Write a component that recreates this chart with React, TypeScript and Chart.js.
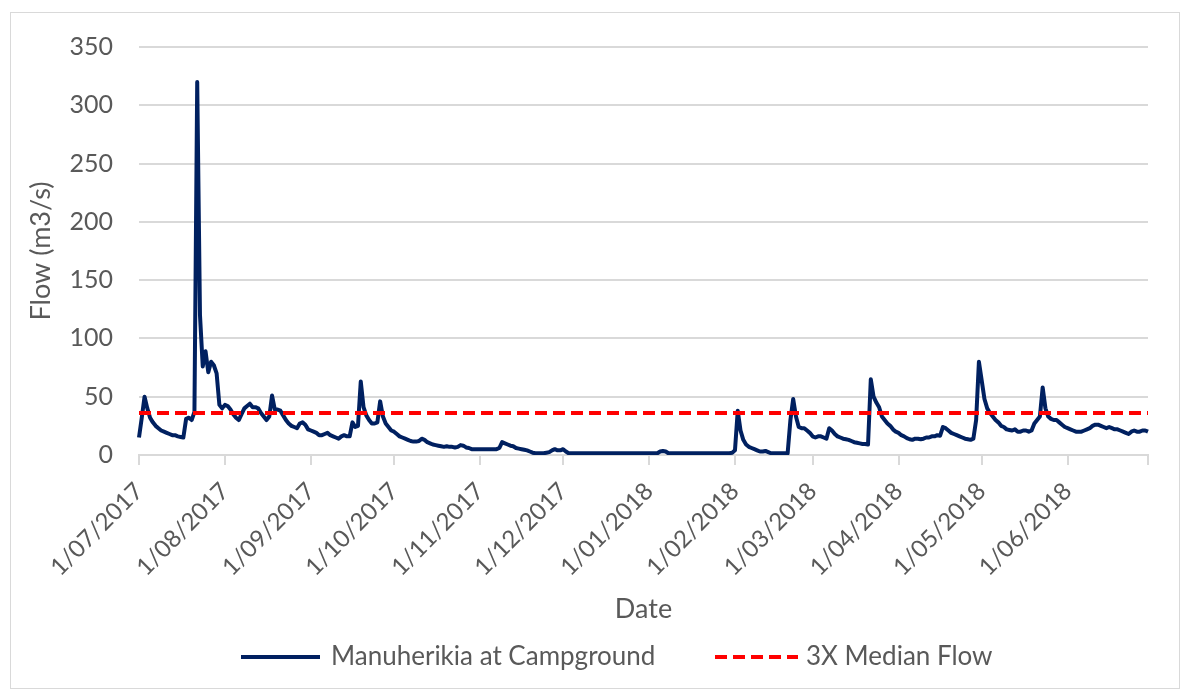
import React, { useEffect, useRef } from 'react';
import { Chart, registerables } from 'chart.js';

Chart.register(...registerables);

// ---- Data ----
const monthStarts = [
  '1/07/2017', '1/08/2017', '1/09/2017', '1/10/2017', '1/11/2017', '1/12/2017',
  '1/01/2018', '1/02/2018', '1/03/2018', '1/04/2018', '1/05/2018', '1/06/2018',
];
const monthLengths = [31, 31, 30, 31, 30, 31, 31, 28, 31, 30, 31, 30];

const julFlow = [15, 32, 50, 40, 32, 28, 25, 23, 21, 20, 19, 18, 17, 17, 16, 15.5, 15, 31, 32, 30, 37, 320, 120, 76, 89, 71, 80, 77, 70, 43, 40];
const augFlow = [43, 42, 39, 35, 32, 30, 35, 40, 42, 44, 41, 41, 40, 36, 33, 30, 33, 51, 39, 39, 38, 34, 30, 27, 25, 24, 23, 27, 28, 26, 22];
const sepFlow = [21, 20, 19, 17, 17, 18, 19, 17, 16, 15, 14, 16, 17, 16, 16, 28, 24, 25, 63, 41, 34, 30, 27, 27, 28, 46, 33, 27, 24, 21];
const octFlow = [20, 18, 16, 15, 14, 13, 12, 11.5, 11.5, 12, 14, 13, 11, 10, 9, 8.5, 8, 7.5, 7, 7.5, 7, 7, 6.5, 7, 8.5, 8, 6.5, 6, 5, 5, 5];
const novFlow = [5, 5, 5, 5, 5, 5, 5, 6, 11, 10, 9, 8, 7.5, 6, 5.5, 5, 4.5, 4, 3, 2, 1.5, 1.5, 1.5, 1.5, 2, 2.5, 4, 5, 4, 4];
const decFlow = [5, 3, 1.5, 1.5, 1.5, 1.5, 1.5, 1.5, 1.5, 1.5, 1.5, 1.5, 1.5, 1.5, 1.5, 1.5, 1.5, 1.5, 1.5, 1.5, 1.5, 1.5, 1.5, 1.5, 1.5, 1.5, 1.5, 1.5, 1.5, 1.5, 1.5];
const janFlow = [1.5, 1.5, 1.5, 1.5, 3, 3.5, 3, 1.5, 1.5, 1.5, 1.5, 1.5, 1.5, 1.5, 1.5, 1.5, 1.5, 1.5, 1.5, 1.5, 1.5, 1.5, 1.5, 1.5, 1.5, 1.5, 1.5, 1.5, 1.5, 1.5, 2];
const febFlow = [4, 38, 21, 13, 9, 7, 6, 5, 4, 3, 3, 3.5, 2.5, 1.5, 1.5, 1.5, 1.5, 1.5, 1.5, 1.5, 30, 48, 33, 24, 23, 23, 21, 19];
const marFlow = [16, 15, 16, 16, 15, 14, 23, 21, 18, 16, 15, 14, 13.5, 13, 12, 11, 10.5, 10, 9.5, 9.5, 9, 65, 50, 45, 41, 33, 30, 27, 25, 22, 20];
const aprFlow = [19, 17, 16, 14.5, 13.5, 13, 14, 14, 13.5, 14, 15, 15, 16, 16, 17, 16.5, 24, 23, 21, 19, 18, 17, 16, 15, 14, 13.5, 13, 14, 30, 80];
const mayFlow = [64, 48, 40, 36, 33, 30, 28, 25, 24, 22, 21.5, 21, 22, 20, 20, 21, 21, 20, 21, 27, 30, 33, 58, 40, 33, 31, 30, 30, 28, 26, 24];
const junFlow = [23, 22, 21, 20, 20, 20, 21, 22, 23, 25, 26, 26, 25, 24, 23, 24, 23, 22, 22, 21, 20, 19, 18, 20, 21, 20, 20, 21, 21, 20];

const MEDIAN_3X = 36;

const flow = [
  ...julFlow, ...augFlow, ...sepFlow, ...octFlow, ...novFlow, ...decFlow,
  ...janFlow, ...febFlow, ...marFlow, ...aprFlow, ...mayFlow, ...junFlow,
];

// day labels (d/mm/yyyy) built from month starts
const dayLabels: string[] = [];
monthStarts.forEach((ms, mi) => {
  const rest = ms.slice(ms.indexOf('/'));
  for (let d = 1; d <= monthLengths[mi]; d++) dayLabels.push(`${d}${rest}`);
});
const lastIndex = dayLabels.length - 1;

const NAVY = '#002060';
const RED = '#FF0000';
const GRID = '#D9D9D9';
const TEXT = '#595959';
const FONT = 'Lato';

const legendPlugin = {
  id: 'customLegend',
  afterDraw(chart: any) {
    const ctx = chart.ctx as CanvasRenderingContext2D;
    const y = 657;
    ctx.save();
    ctx.font = `26px ${FONT}`;
    ctx.fillStyle = TEXT;
    ctx.textBaseline = 'middle';
    ctx.textAlign = 'left';
    ctx.lineWidth = 4;
    // series 1
    ctx.strokeStyle = NAVY;
    ctx.setLineDash([]);
    ctx.beginPath();
    ctx.moveTo(241, y);
    ctx.lineTo(320, y);
    ctx.stroke();
    ctx.fillText(chart.data.datasets[1].label, 331, y);
    // series 2
    ctx.strokeStyle = RED;
    ctx.setLineDash([12, 6]);
    ctx.beginPath();
    ctx.moveTo(715, y);
    ctx.lineTo(798, y);
    ctx.stroke();
    ctx.setLineDash([]);
    ctx.fillText(chart.data.datasets[0].label, 806, y);
    ctx.restore();
  },
};

export default function App() {
  const ref = useRef<HTMLCanvasElement>(null);

  useEffect(() => {
    Chart.defaults.font.family = FONT;
    const chart = new Chart(ref.current!, {
      type: 'line',
      data: {
        labels: dayLabels,
        datasets: [
          {
            label: '3X Median Flow',
            data: dayLabels.map(() => MEDIAN_3X),
            borderColor: RED,
            backgroundColor: RED,
            borderWidth: 4,
            borderDash: [12, 6],
            pointRadius: 0,
            fill: false,
            order: 0,
          },
          {
            label: 'Manuherikia at Campground',
            data: flow,
            borderColor: NAVY,
            backgroundColor: NAVY,
            borderWidth: 4,
            borderJoinStyle: 'round',
            pointRadius: 0,
            tension: 0,
            fill: false,
            order: 1,
          },
        ],
      },
      options: {
        responsive: false,
        animation: false,
        devicePixelRatio: 1,
        layout: { padding: { left: 12, right: 44, top: 47, bottom: 70 } },
        plugins: {
          legend: { display: false },
          tooltip: { enabled: false },
        },
        scales: {
          x: {
            type: 'category',
            afterBuildTicks: (scale: any) => {
              scale.ticks = scale.ticks.filter(
                (t: any) => monthStarts.includes(dayLabels[t.value]) || t.value === lastIndex
              );
            },
            afterFit: (scale: any) => {
              scale.height = 170;
            },
            grid: {
              drawOnChartArea: false,
              drawTicks: true,
              tickLength: 10,
              color: GRID,
              lineWidth: 2,
            },
            border: { display: true, color: GRID, width: 2 },
            ticks: {
              autoSkip: false,
              maxRotation: 45,
              minRotation: 45,
              padding: 12,
              color: TEXT,
              font: { size: 24, family: FONT },
              callback: function (this: any, value: any) {
                const l = dayLabels[value];
                return monthStarts.includes(l) ? l : '';
              },
            },
            title: {
              display: true,
              text: 'Date',
              color: TEXT,
              font: { size: 27, family: FONT },
              padding: { top: 0, bottom: 0 },
            },
          },
          y: {
            min: 0,
            max: 350,
            afterFit: (scale: any) => {
              scale.width = 127;
            },
            ticks: {
              stepSize: 50,
              padding: 26,
              color: TEXT,
              font: { size: 25, family: FONT },
            },
            grid: { color: GRID, lineWidth: 2, drawTicks: false },
            border: { display: false },
            title: {
              display: true,
              text: 'Flow (m3/s)',
              color: TEXT,
              font: { size: 27, family: FONT },
              padding: { top: 13, bottom: 0 },
            },
          },
        },
      },
      plugins: [legendPlugin],
    });
    return () => chart.destroy();
  }, []);

  return (
    <div style={{ position: 'absolute', left: 0, top: 0, width: 1192, height: 695, background: '#fff' }}>
      <div
        style={{
          position: 'absolute',
          left: 10,
          top: 12,
          width: 1170,
          height: 677,
          border: '1px solid #D9D9D9',
          boxSizing: 'border-box',
        }}
      />
      <canvas ref={ref} width={1192} height={695} style={{ position: 'absolute', left: 0, top: 0 }} />
    </div>
  );
}
